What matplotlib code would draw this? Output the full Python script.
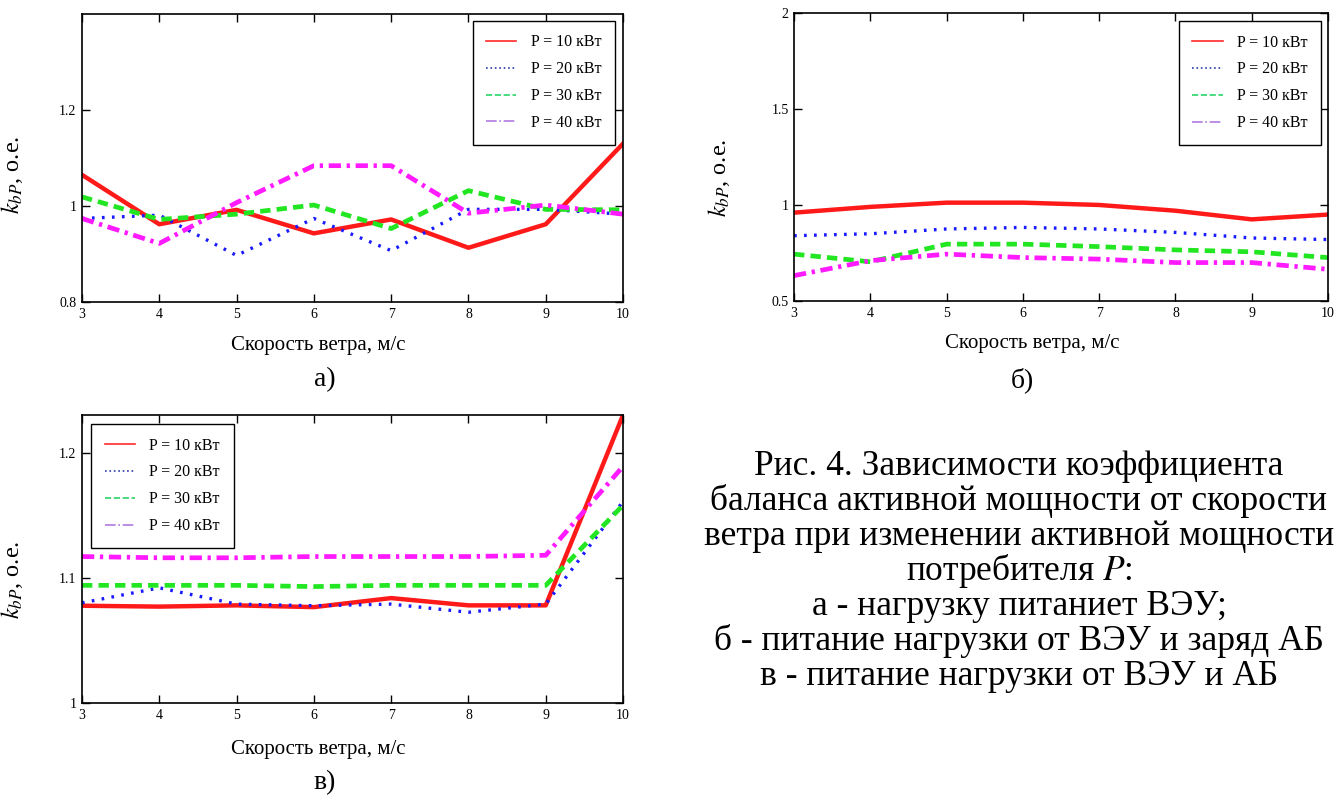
import matplotlib.pyplot as plt
from matplotlib.lines import Line2D
from matplotlib.ticker import FuncFormatter

plt.rcParams['font.family'] = ['Liberation Serif', 'DejaVu Serif']
plt.rcParams['mathtext.fontset'] = 'stix'

# скорость ветра, м/с
wind = [3, 4, 5, 6, 7, 8, 9, 10]
labels = ['P = 10 кВт', 'P = 20 кВт', 'P = 30 кВт', 'P = 40 кВт']

# а) нагрузку питает ВЭУ
a_p10 = [1.065, 0.962, 0.992, 0.943, 0.972, 0.913, 0.962, 1.130]
a_p20 = [0.974, 0.981, 0.897, 0.974, 0.907, 0.993, 0.993, 0.983]
a_p30 = [1.019, 0.972, 0.983, 1.002, 0.953, 1.032, 0.993, 0.992]
a_p40 = [0.974, 0.922, 1.007, 1.084, 1.084, 0.985, 1.002, 0.983]

# б) питание нагрузки от ВЭУ и заряд АБ
b_p10 = [0.960, 0.990, 1.012, 1.012, 1.000, 0.970, 0.925, 0.950]
b_p20 = [0.840, 0.850, 0.875, 0.883, 0.875, 0.857, 0.828, 0.820]
b_p30 = [0.744, 0.704, 0.796, 0.796, 0.783, 0.766, 0.756, 0.726]
b_p40 = [0.632, 0.710, 0.744, 0.726, 0.718, 0.700, 0.700, 0.665]

# в) питание нагрузки от ВЭУ и АБ
c_p10 = [1.0777, 1.0770, 1.0780, 1.0766, 1.0838, 1.0780, 1.0780, 1.2300]
c_p20 = [1.0800, 1.0920, 1.0790, 1.0777, 1.0790, 1.0725, 1.0790, 1.1610]
c_p30 = [1.0940, 1.0940, 1.0940, 1.0930, 1.0940, 1.0940, 1.0940, 1.1580]
c_p40 = [1.1170, 1.1160, 1.1160, 1.1170, 1.1170, 1.1170, 1.1180, 1.1890]

# стили линий: цвет, штрих, толщина
styles = [
    ('#ff1a1a', '-', 3.2),
    ('#1a1aff', (0, (0.8, 2.2)), 2.4),
    ('#22e622', (0, (2.2, 1.3)), 3.4),
    ('#ff1aff', (0, (2.6, 1.2, 0.7, 1.2)), 3.4),
]
# в легенде линии тонкие и чуть другого оттенка
leg_colors = ['#ff2a2a', '#2a3ca8', '#2ad46a', '#b07ae0']
leg_styles = ['-', ':', '--', '-.']

fig = plt.figure(figsize=(13.37, 7.96), dpi=100)


def panel(rect, series, ylim, yticks, leg_loc, leg_anchor, ylab_xy, xlab_xy):
    ax = fig.add_axes(rect)
    for y, (c, ls, lw) in zip(series, styles):
        ax.plot(wind, y, color=c, linestyle=ls, linewidth=lw)
    ax.set_xlim(3, 10)
    ax.set_ylim(*ylim)
    ax.set_xticks(wind)
    ax.set_yticks(yticks)
    ax.yaxis.set_major_formatter(FuncFormatter(lambda v, p: '{:g}'.format(v)))
    ax.tick_params(direction='in', top=True, right=True, length=6,
                   width=1, labelsize=10, pad=4)
    for s in ax.spines.values():
        s.set_linewidth(1.2)
    ax.set_xlabel('Скорость ветра, м/с', fontsize=15)
    ax.xaxis.set_label_coords(*xlab_xy)
    ax.set_ylabel('$k_{bP}$, о.е.', fontsize=17.5)
    ax.yaxis.set_label_coords(*ylab_xy)

    handles = [Line2D([], [], color=lc, linestyle=ls, linewidth=1.2)
               for lc, ls in zip(leg_colors, leg_styles)]
    leg = ax.legend(handles, labels, loc=leg_loc, bbox_to_anchor=leg_anchor,
                    borderaxespad=0, fontsize=11.5, frameon=True, fancybox=False,
                    edgecolor='black', framealpha=1, handlelength=1.9,
                    handletextpad=0.9, labelspacing=0.68, borderpad=0.85)
    leg.get_frame().set_linewidth(1.0)
    return ax


panel([0.0613, 0.6206, 0.4047, 0.3618], [a_p10, a_p20, a_p30, a_p40],
      (0.8, 1.4), [0.8, 1.0, 1.2], 'upper right', (0.985, 0.976),
      (-0.106, 0.44), (0.436, -0.118))
panel([0.5939, 0.6219, 0.3994, 0.3618], [b_p10, b_p20, b_p30, b_p40],
      (0.5, 2.0), [0.5, 1.0, 1.5, 2.0], 'upper right', (0.987, 0.972),
      (-0.116, 0.427), (0.446, -0.115))
panel([0.0613, 0.1168, 0.4047, 0.3618], [c_p10, c_p20, c_p30, c_p40],
      (1.0, 1.23), [1.0, 1.1, 1.2], 'upper left', (0.017, 0.969),
      (-0.106, 0.427), (0.436, -0.13))

# подписи панелей
fig.text(325 / 1337, 1 - 380 / 796, 'а)', fontsize=20, ha='center', va='center')
fig.text(1022 / 1337, 1 - 380 / 796, 'б)', fontsize=20, ha='center', va='center')
fig.text(325 / 1337, 1 - 783 / 796, 'в)', fontsize=20, ha='center', va='center')

# подрисуночная подпись
caption = [
    'Рис. 4. Зависимости коэффициента',
    'баланса активной мощности от скорости',
    'ветра при изменении активной мощности',
    'потребителя $P$:',
    'а - нагрузку питаниет ВЭУ;',
    'б - питание нагрузки от ВЭУ и заряд АБ',
    'в - питание нагрузки от ВЭУ и АБ',
]
for i, line in enumerate(caption):
    fig.text(1019 / 1337, 1 - (475 + 35 * i) / 796, line, fontsize=25.5,
             ha='center', va='baseline')

fig.savefig('out.png', dpi=100)
